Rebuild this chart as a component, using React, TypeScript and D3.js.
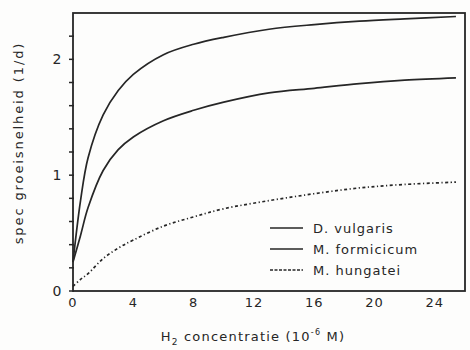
import React, { useEffect, useRef } from "react";
import * as d3 from "d3";

// H2 concentration (10^-6 M)
const concentration = [0, 0.5, 1, 2, 3, 4, 6, 8, 10, 13, 16, 19, 22, 25.4];
// specific growth rate (1/d)
const vulgaris = [0.25, 0.78, 1.15, 1.52, 1.73, 1.87, 2.04, 2.13, 2.19, 2.26, 2.3, 2.33, 2.35, 2.37];
const formicicum = [0.25, 0.48, 0.72, 1.04, 1.22, 1.33, 1.47, 1.56, 1.63, 1.71, 1.75, 1.79, 1.82, 1.84];
const hungatei = [0.04, 0.1, 0.15, 0.28, 0.37, 0.44, 0.56, 0.64, 0.71, 0.78, 0.84, 0.89, 0.92, 0.94];

const legendNames = ["D. vulgaris", "M. formicicum", "M. hungatei"];
const xTicks = [0, 4, 8, 12, 16, 20, 24];
const yTickLabels = [0, 1, 2];
const yMinorTicks = d3.range(0, 2.21, 0.2);

const App = () => {
  const ref = useRef<SVGSVGElement>(null);

  useEffect(() => {
    const width = 470;
    const height = 350;
    const ink = "#262626";
    const font = "'DejaVu Sans', sans-serif";

    const svg = d3.select(ref.current);
    svg.selectAll("*").remove();
    svg.attr("width", width).attr("height", height);

    svg.append("rect").attr("width", width).attr("height", height).attr("fill", "#fdfdfc");

    const x = d3.scaleLinear().domain([0, 26]).range([73, 465]);
    const y = d3.scaleLinear().domain([0, 2.4]).range([291, 13]);

    // frame
    svg.append("rect")
      .attr("x", x(0))
      .attr("y", y(2.4))
      .attr("width", x(26) - x(0))
      .attr("height", y(0) - y(2.4))
      .attr("fill", "none")
      .attr("stroke", ink)
      .attr("stroke-width", 1.8);

    // y ticks every 0.2
    svg.selectAll(".ytick")
      .data(yMinorTicks)
      .enter()
      .append("line")
      .attr("x1", x(0) - 4)
      .attr("x2", x(0) + 1)
      .attr("y1", (d) => y(d))
      .attr("y2", (d) => y(d))
      .attr("stroke", ink)
      .attr("stroke-width", 1.5);

    svg.selectAll(".ylabel")
      .data(yTickLabels)
      .enter()
      .append("text")
      .attr("x", 57)
      .attr("y", (d) => y(d))
      .attr("dy", "0.36em")
      .attr("text-anchor", "middle")
      .attr("font-family", font)
      .attr("font-size", 14)
      .attr("fill", ink)
      .text((d) => d);

    svg.selectAll(".xlabel")
      .data(xTicks)
      .enter()
      .append("text")
      .attr("x", (d) => x(d))
      .attr("y", 307)
      .attr("text-anchor", "middle")
      .attr("font-family", font)
      .attr("font-size", 13)
      .attr("letter-spacing", 1)
      .attr("fill", ink)
      .text((d) => d);

    // axis titles
    const xt = svg.append("text")
      .attr("x", 253)
      .attr("y", 341)
      .attr("text-anchor", "middle")
      .attr("font-family", font)
      .attr("font-size", 13)
      .attr("letter-spacing", 1.2)
      .attr("fill", ink);
    xt.append("tspan").text("H");
    xt.append("tspan").attr("font-size", 9).attr("dy", 4).text("2");
    xt.append("tspan").attr("dy", -4).text(" concentratie (10");
    xt.append("tspan").attr("font-size", 8).attr("dy", -6).text("-6");
    xt.append("tspan").attr("dy", 6).text(" M)");

    svg.append("text")
      .attr("transform", "translate(23,143) rotate(-90)")
      .attr("text-anchor", "middle")
      .attr("font-family", font)
      .attr("font-size", 13)
      .attr("letter-spacing", 1.9)
      .attr("fill", ink)
      .text("spec groeisnelheid (1/d)");

    // curves
    const series = [vulgaris, formicicum, hungatei];
    const dashes = [null, null, "3 2.5 1.2 2.5"];
    const line = d3.line<number>()
      .x((d, i) => x(concentration[i]))
      .y((d) => y(d))
      .curve(d3.curveCatmullRom.alpha(0.5));

    series.forEach((vals, k) => {
      svg.append("path")
        .attr("d", line(vals))
        .attr("fill", "none")
        .attr("stroke", ink)
        .attr("stroke-width", 1.7)
        .attr("stroke-dasharray", dashes[k]);
    });

    // legend
    const legendY = d3.scalePoint().domain(legendNames).range([228, 270]);
    legendNames.forEach((name, k) => {
      svg.append("line")
        .attr("x1", 270)
        .attr("x2", 303)
        .attr("y1", legendY(name))
        .attr("y2", legendY(name))
        .attr("stroke", ink)
        .attr("stroke-width", 1.7)
        .attr("stroke-dasharray", k === 2 ? "3 1.5" : null);
      svg.append("text")
        .attr("x", 313)
        .attr("y", legendY(name))
        .attr("dy", "0.35em")
        .attr("font-family", font)
        .attr("font-size", 13)
        .attr("letter-spacing", 1)
        .attr("fill", ink)
        .text(name);
    });
  }, []);

  return (
    <svg ref={ref} style={{ position: "absolute", left: 0, top: 0, display: "block" }}></svg>
  );
};

export default App;
